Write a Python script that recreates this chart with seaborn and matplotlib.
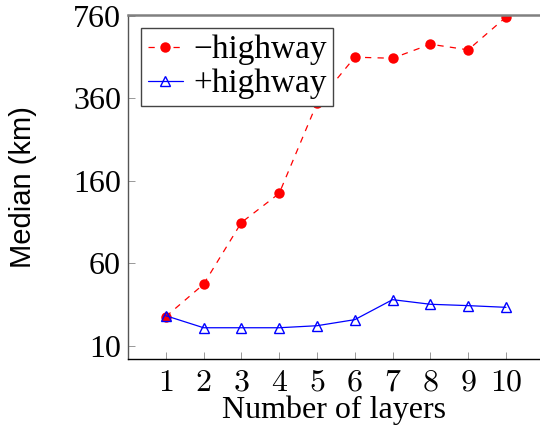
import numpy as np
import pandas as pd
import matplotlib
matplotlib.use("Agg")
import matplotlib.pyplot as plt
import seaborn as sns

# data
layers = [1, 2, 3, 4, 5, 6, 7, 8, 9, 10]
minus_highway = [24, 44, 101, 140, 344, 525, 520, 590, 561, 751]
plus_highway = [24.5, 18.3, 18.3, 18.3, 19.3, 22.4, 33.8, 31, 30.2, 29.2]
y_ticks = [10, 60, 160, 360, 760]

sns.set_theme(style="white")
plt.rcParams["font.family"] = ["Liberation Serif", "DejaVu Serif"]
plt.rcParams["mathtext.fontset"] = "cm"
plt.rcParams["text.color"] = "black"
plt.rcParams["axes.labelcolor"] = "black"

df_minus = pd.DataFrame({"layers": layers, "median": minus_highway})
df_plus = pd.DataFrame({"layers": layers, "median": plus_highway})

fig = plt.figure(figsize=(5.4, 4.25), dpi=100)
ax = fig.add_axes([0.237, 0.155, 0.763, 0.81])

sns.lineplot(data=df_minus, x="layers", y="median", ax=ax, color="red",
             linewidth=0.9, marker="o", markersize=7.5, markeredgewidth=0,
             label="\u2212highway")
ax.lines[-1].set_dashes((5, 5))
sns.lineplot(data=df_plus, x="layers", y="median", ax=ax, color="blue",
             linewidth=0.9, marker="^", markersize=7, markerfacecolor="none",
             markeredgecolor="blue", markeredgewidth=1.0,
             label="+highway")

# axis is log of (value + 40)
ax.set_yscale("function", functions=(lambda y: np.log2(np.maximum(y + 40, 1e-6)),
                                     lambda t: 2 ** t - 40))
ax.set_ylim(4.8, 766)
ax.set_xlim(0.0, 10.9)
ax.set_yticks(y_ticks)
ax.set_yticklabels([str(t) for t in y_ticks])
ax.set_xticks(layers)
ax.set_xticklabels([f"${v}$" for v in layers])
ax.minorticks_off()

ax.tick_params(axis="both", direction="in", length=5, width=0.6, colors="#888888",
               labelsize=23, labelcolor="black", pad=5)
ax.tick_params(axis="x", pad=7, labelsize=23)
ax.tick_params(axis="both", which="both", top=False, right=False, left=True, bottom=True)

ax.spines["top"].set_color("#808080")
ax.spines["top"].set_linewidth(1.8)
ax.spines["left"].set_color("#555555")
ax.spines["left"].set_linewidth(1.0)
ax.spines["bottom"].set_color("black")
ax.spines["bottom"].set_linewidth(1.0)
ax.spines["right"].set_visible(False)

ax.set_xlabel("Number of layers", fontsize=23, labelpad=-2)
ax.set_ylabel("Median (km)", fontsize=21, family=["Liberation Sans", "DejaVu Sans"],
              labelpad=26)

leg = ax.legend(loc="upper left", fontsize=24, frameon=True, fancybox=False,
                framealpha=1, edgecolor="#444444", handlelength=1.05,
                handletextpad=0.3, borderpad=0.2, labelspacing=0.1,
                borderaxespad=0.4)
leg.get_frame().set_linewidth(1.0)

fig.savefig("out.png", dpi=100)
